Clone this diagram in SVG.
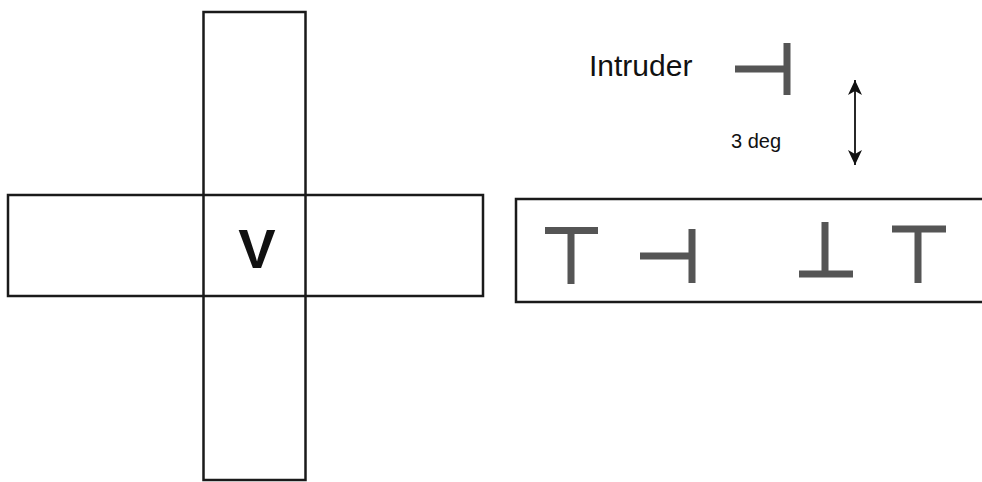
<svg xmlns="http://www.w3.org/2000/svg" width="982" height="482" viewBox="0 0 982 482">
<style>
.frame{fill:none;stroke:#1a1a1a;stroke-width:2.5}
.bar{stroke:#555;stroke-width:7;fill:none;stroke-linecap:butt}
.lbl{font-family:"Liberation Sans",Arial,sans-serif;fill:#111}
</style>
<defs>
<marker id="ah" viewBox="0 0 16 16" refX="15" refY="8" markerWidth="16" markerHeight="16" markerUnits="userSpaceOnUse" orient="auto-start-reverse">
<path d="M0,1 L15,8 L0,15 L4,8 Z" fill="#111"/>
</marker>
</defs>
<rect width="982" height="482" fill="#fff"/>
<g id="cross">
<rect class="frame" x="203.5" y="12" width="102" height="468"/>
<rect class="frame" x="8" y="195" width="475" height="101"/>
<text class="lbl" x="257" y="268" font-size="56" font-weight="bold" text-anchor="middle" fill="#333">V</text>
</g>
<g id="intruder">
<text class="lbl" x="589" y="76" font-size="30">Intruder</text>
<path class="bar" d="M735,69 H787 M787,43 V95"/>
</g>
<g id="label-3deg">
<text class="lbl" x="731" y="148" font-size="20">3 deg</text>
</g>
<g id="connectors">
<line x1="855" y1="80" x2="855" y2="165" stroke="#111" stroke-width="1.8" marker-start="url(#ah)" marker-end="url(#ah)"/>
</g>
<g id="array">
<rect class="frame" x="516" y="199" width="475" height="103"/>
<path class="bar" d="M545,230.5 H598 M571,230.5 V284"/>
<path class="bar" d="M640,256 H692 M692,229 V283"/>
<path class="bar" d="M825,222 V274 M799,274 H853"/>
<path class="bar" d="M892,229 H946 M918,229 V283"/>
</g>
</svg>
